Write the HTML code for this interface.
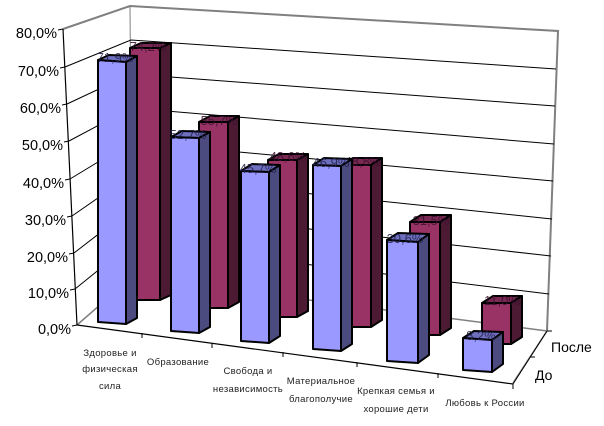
<!DOCTYPE html>
<html><head><meta charset="utf-8"><style>
html,body{margin:0;padding:0;background:#fff;}
svg{display:block;}
text{font-family:"Liberation Sans",sans-serif;}
</style></head><body>
<svg width="604" height="426" viewBox="0 0 604 426" xmlns="http://www.w3.org/2000/svg">
<polyline points="63,29 130,6 558,31 547,331" fill="none" stroke="#808080" stroke-width="2"/>
<line x1="130" y1="6" x2="132" y2="277" stroke="#808080" stroke-width="1"/>
<polyline points="77,325 132,277 547,331 513,383" fill="none" stroke="#808080" stroke-width="1.5"/>
<g stroke="#000" stroke-width="1" fill="none">
<polyline points="65,67 131,40 556,69"/>
<polyline points="67,104 131,74 555,106"/>
<polyline points="69,141 131,108 554,144"/>
<polyline points="70,179 131,142 553,181"/>
<polyline points="72,216 131,175 552,219"/>
<polyline points="74,253 131,209 551,256"/>
<polyline points="75,289 132,243 549,294"/>
</g>
<line x1="63" y1="29" x2="77" y2="325" stroke="#000" stroke-width="1.2"/>
<g stroke="#000" stroke-width="1">
<line x1="58" y1="30" x2="63" y2="29"/><line x1="60" y1="68" x2="65" y2="67"/>
<line x1="62" y1="105" x2="67" y2="104"/><line x1="64" y1="142" x2="69" y2="141"/>
<line x1="65" y1="180" x2="70" y2="179"/><line x1="67" y1="217" x2="72" y2="216"/>
<line x1="69" y1="254" x2="74" y2="253"/><line x1="70" y1="290" x2="75" y2="289"/>
<line x1="72" y1="326" x2="77" y2="325"/>
</g>
<g font-size="14.5" fill="#000" text-anchor="end">
<text x="57" y="38">80,0%</text><text x="59" y="76">70,0%</text>
<text x="61" y="113">60,0%</text><text x="63" y="150">50,0%</text>
<text x="64" y="188">40,0%</text><text x="66" y="225">30,0%</text>
<text x="68" y="262">20,0%</text><text x="69" y="298">10,0%</text>
<text x="71" y="334">0,0%</text>
</g>
<line x1="77" y1="325" x2="513" y2="384" stroke="#000" stroke-width="1.2"/>
<g stroke="#000" stroke-width="1">
<line x1="142" y1="333" x2="142" y2="338"/><line x1="212" y1="343" x2="212" y2="348"/>
<line x1="283" y1="352" x2="283" y2="357"/><line x1="357" y1="362" x2="357" y2="367"/>
<line x1="438" y1="373" x2="438" y2="378"/><line x1="513" y1="384" x2="513" y2="389"/>
<line x1="513" y1="384" x2="547" y2="331"/>
<line x1="530" y1="357" x2="535" y2="357"/><line x1="547" y1="331" x2="552" y2="331"/>
</g>
<text x="551" y="352" font-size="14">После</text>
<text x="535" y="380" font-size="14">До</text>
<g stroke="#000" stroke-width="2" stroke-linejoin="round">
<g><polygon points="130,48 160,48 171,43 141,43" fill="#7a2952"/><polygon points="160,48 171,43 171,295 160,300" fill="#4d1a33"/><rect x="130" y="48" width="30" height="252" fill="#993366"/></g>
<g><polygon points="199,122 228,122 239,116 210,116" fill="#7a2952"/><polygon points="228,122 239,116 239,302 228,308" fill="#4d1a33"/><rect x="199" y="122" width="29" height="186" fill="#993366"/></g>
<g><polygon points="268,160 297,160 308,154 279,154" fill="#7a2952"/><polygon points="297,160 308,154 308,311 297,317" fill="#4d1a33"/><rect x="268" y="160" width="29" height="157" fill="#993366"/></g>
<g><polygon points="342,165 371,165 382,158 353,158" fill="#7a2952"/><polygon points="371,165 382,158 382,320 371,327" fill="#4d1a33"/><rect x="342" y="165" width="29" height="162" fill="#993366"/></g>
<g><polygon points="410,222 440,222 451,215 421,215" fill="#7a2952"/><polygon points="440,222 451,215 451,328 440,335" fill="#4d1a33"/><rect x="410" y="222" width="30" height="113" fill="#993366"/></g>
<g><polygon points="482,303 511,303 522,296 493,296" fill="#7a2952"/><polygon points="511,303 522,296 522,337 511,344" fill="#4d1a33"/><rect x="482" y="303" width="29" height="41" fill="#993366"/></g>
</g>
<g font-size="13" fill="#3a1030" fill-opacity="0.85" text-anchor="middle">
<text x="148" y="51">74,2%</text><text x="219" y="125">55,7%</text>
<text x="288" y="161">48,6%</text><text x="363" y="166">48,8%</text>
<text x="431" y="225">31,5%</text><text x="502" y="305">11,0%</text>
</g>
<g stroke="#000" stroke-width="2" stroke-linejoin="round">
<g><polygon points="98,60 126,62 137,56 109,55" fill="#6f6fc0"/><polygon points="126,62 137,56 137,318 126,324" fill="#4b4b80"/><polygon points="98,60 126,62 126,324 98,322" fill="#9999ff"/></g>
<g><polygon points="171,137 199,138 210,132 182,131" fill="#6f6fc0"/><polygon points="199,138 210,132 210,327 199,333" fill="#4b4b80"/><polygon points="171,137 199,138 199,333 171,331" fill="#9999ff"/></g>
<g><polygon points="241,171 269,172 280,165 252,164" fill="#6f6fc0"/><polygon points="269,172 280,165 280,336 269,343" fill="#4b4b80"/><polygon points="241,171 269,172 269,343 241,341" fill="#9999ff"/></g>
<g><polygon points="313,165 341,166 352,159 324,158" fill="#6f6fc0"/><polygon points="341,166 352,159 352,344 341,351" fill="#4b4b80"/><polygon points="313,165 341,166 341,351 313,349" fill="#9999ff"/></g>
<g><polygon points="387,240 418,242 429,234 398,233" fill="#6f6fc0"/><polygon points="418,242 429,234 429,355 418,363" fill="#4b4b80"/><polygon points="387,240 418,242 418,363 387,361" fill="#9999ff"/></g>
<g><polygon points="463,338 492,340 503,332 474,331" fill="#6f6fc0"/><polygon points="492,340 503,332 503,364 492,372" fill="#4b4b80"/><polygon points="463,338 492,340 492,372 463,370" fill="#9999ff"/></g>
</g>
<g font-size="13" fill="#20204a" fill-opacity="0.85" text-anchor="middle">
<text x="115" y="62">71,9%</text><text x="188" y="139">52,7%</text>
<text x="258" y="173">45,7%</text><text x="331" y="167">46,9%</text>
<text x="405" y="243">30,6%</text><text x="481" y="340">8,2%</text>
</g>
<g font-size="9.5" fill="#222" text-anchor="middle" letter-spacing="0.3">
<text x="110" y="356">Здоровье и</text><text x="110" y="372">физическая</text><text x="110" y="389">сила</text>
<text x="178" y="365">Образование</text>
<text x="248" y="374">Свобода и</text><text x="248" y="392">независимость</text>
<text x="321" y="384">Материальное</text><text x="321" y="402">благополучие</text>
<text x="396" y="394">Крепкая семья и</text><text x="396" y="412">хорошие дети</text>
<text x="485" y="406">Любовь к России</text>
</g>
</svg>
</body></html>
